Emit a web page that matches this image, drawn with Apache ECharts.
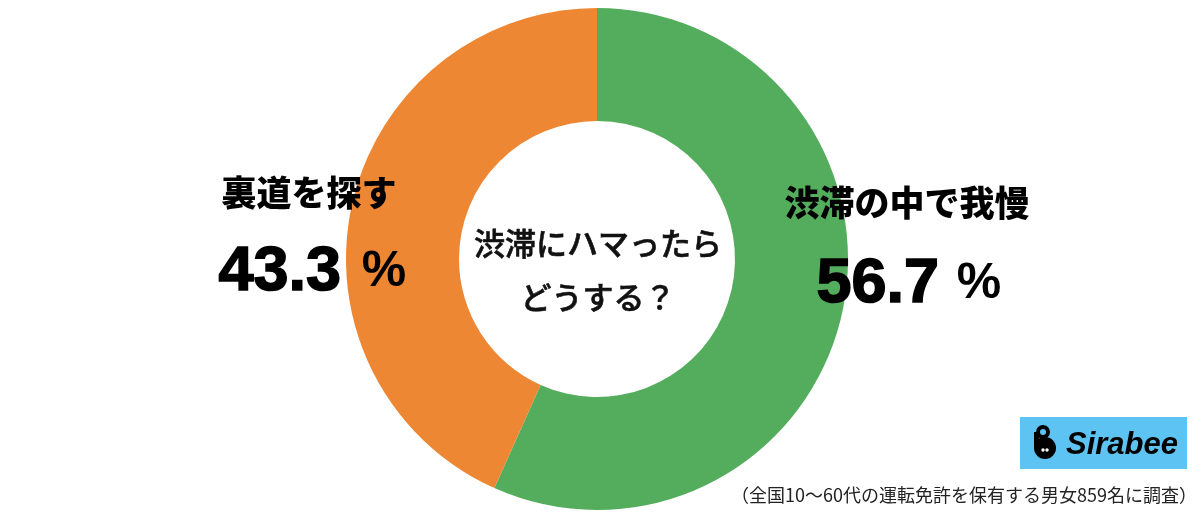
<!DOCTYPE html>
<html><head><meta charset="utf-8">
<script src="https://cdn.jsdelivr.net/npm/echarts@6/dist/echarts.min.js"></script>
<style>html,body{margin:0;padding:0;background:#fff}#c{width:1200px;height:517px}</style>
</head><body><div id="c"></div>
<script>
const categories = ['渋滞の中で我慢', '裏道を探す'];
const values = [56.7, 43.3];
const colors = ['#53AD5C', '#EE8734'];
const centerLines = ['渋滞にハマったら', 'どうする？'];
const footnote = '（全国10〜60代の運転免許を保有する男女859名に調査）';
const brand = 'Sirabee';

const chart = echarts.init(document.getElementById('c'));
const jp = '"Noto Sans CJK JP", sans-serif';
const num = '"Liberation Sans", Arial, sans-serif';
const T = (x, y, text, font, align, fill, sw) => ({ type: 'text', z: 100, x, y, style: { text, font, fill: fill || '#000', align: align || 'center', verticalAlign: 'middle', stroke: sw ? (fill || '#000') : null, lineWidth: sw || 0 } });
chart.setOption({
  animation: false,
  series: [{
    type: 'pie',
    z: 1,
    center: [597, 259],
    radius: [138, 251],
    startAngle: 90,
    clockwise: true,
    label: { show: false },
    labelLine: { show: false },
    itemStyle: { borderWidth: 0 },
    emphasis: { disabled: true },
    data: categories.map((c, i) => ({ name: c, value: values[i], itemStyle: { color: colors[i] } }))
  }],
  graphic: [
    T(598, 243, centerLines[0], '500 31px ' + jp, 'center', '#111', 0.6),
    T(598, 297, centerLines[1], '500 31px ' + jp, 'center', '#111', 0.6),
    T(309, 193, categories[1], '900 35px ' + jp),
    T(907, 203, categories[0], '900 35px ' + jp),
    T(341, 273, values[1].toFixed(1), 'bold 63px ' + num, 'right', '#000', 1.6),
    T(384, 272, '%', 'bold 50px ' + num),
    T(939, 285, values[0].toFixed(1), 'bold 63px ' + num, 'right', '#000', 1.6),
    T(979, 284, '%', 'bold 50px ' + num),
    T(1197, 495, footnote, '18px ' + jp, 'right', '#222'),
    { type: 'rect', z: 100, shape: { x: 1020, y: 417, width: 167, height: 52 }, style: { fill: '#5CC3F2' } },
    { type: 'circle', z: 101, shape: { cx: 1045, cy: 448, r: 11 }, style: { fill: '#000' } },
    { type: 'ring', z: 101, shape: { cx: 1043, cy: 432, r: 7, r0: 3 }, style: { fill: '#000' } },
    { type: 'rect', z: 101, shape: { x: 1034, y: 432, width: 5, height: 14 }, style: { fill: '#000' } },
    { type: 'circle', z: 102, shape: { cx: 1043, cy: 450, r: 1.7 }, style: { fill: '#fff' } },
    { type: 'circle', z: 102, shape: { cx: 1047, cy: 450, r: 1.7 }, style: { fill: '#fff' } },
    T(1122, 445, brand, 'italic bold 31px ' + num)
  ]
});
</script></body></html>
